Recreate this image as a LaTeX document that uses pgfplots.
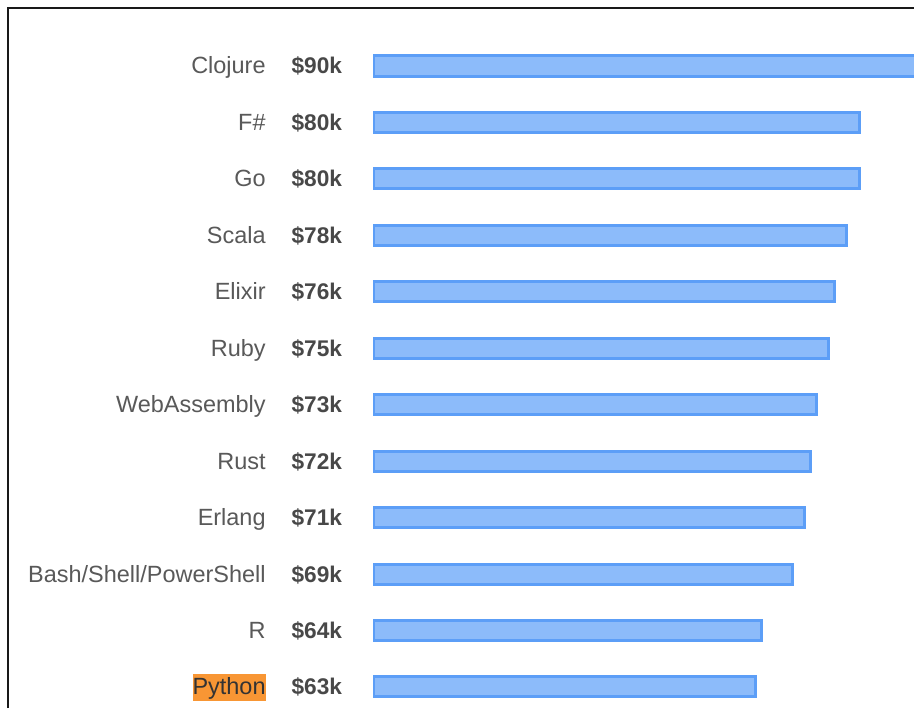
\documentclass[border=0pt]{standalone}
\usepackage{pgfplots}
\pgfplotsset{compat=1.18}
\usepackage{fontspec}
\setmainfont{Liberation Sans}
\newlength\px \setlength\px{0.75pt}
\definecolor{barfill}{RGB}{140,187,250}
\definecolor{barline}{RGB}{92,158,247}
\definecolor{namegray}{RGB}{89,89,89}
\definecolor{valgray}{RGB}{72,72,72}
\definecolor{pyorange}{RGB}{248,150,52}
\newcommand\namefont{\fontsize{17.6}{20}\selectfont}
\newcommand\lab[2]{\makebox[0pt][r]{\namefont\textcolor{namegray}{#1}}\hspace{26\px}\textcolor{valgray}{\textbf{\$#2k}}}
\begin{document}
\begin{tikzpicture}
\useasboundingbox (0,0) rectangle (914\px,708\px);
\fill[white] (0,0) rectangle (914\px,708\px);
\begin{axis}[at={(373\px,0)}, anchor=south west, scale only axis,
  width=541\px, height=708\px,
  xbar, bar width=0.355,
  xmin=0, xmax=89.05, ymin=-1.169, ymax=11.373, y dir=reverse,
  axis line style={draw=none}, tick style={draw=none},
  xtick=\empty, ytick={0,...,11},
  yticklabels={
    {\lab{Clojure}{90}},
    {\lab{F\#}{80}},
    {\lab{Go}{80}},
    {\lab{Scala}{78}},
    {\lab{Elixir}{76}},
    {\lab{Ruby}{75}},
    {\lab{WebAssembly}{73}},
    {\lab{Rust}{72}},
    {\lab{Erlang}{71}},
    {\lab{Bash/Shell/PowerShell}{69}},
    {\lab{R}{64}},
    {\makebox[0pt][r]{{\namefont\setlength{\fboxsep}{0pt}\colorbox{pyorange}{\rule[-6\px]{0pt}{27\px}\textcolor{black!80}{Python}}}}\hspace{26\px}\textcolor{valgray}{\textbf{\$63k}}}
  },
  y tick label style={anchor=base east, inner sep=0pt, xshift=-25\px, yshift=-8\px, font=\fontsize{17}{20}\selectfont},
]
\addplot[draw=barline, fill=barfill, line width=3\px] coordinates {
  (90,0) (80,1) (80,2) (78,3) (76,4) (75,5) (73,6) (72,7) (71,8) (69,9) (64,10) (63,11)
};
\end{axis}
\draw[line width=2\px, black!90] (8\px,0) -- (8\px,700\px) -- (914\px,700\px);
\end{tikzpicture}
\end{document}
